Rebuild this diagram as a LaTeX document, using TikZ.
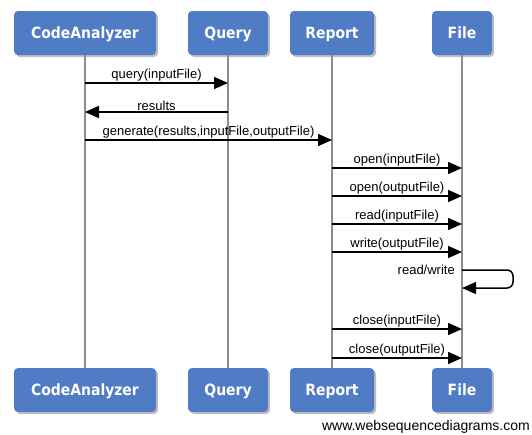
\documentclass[tikz,border=0pt]{standalone}
\usepackage{fontspec}
\setmainfont{Liberation Sans}
\newfontfamily\boxfont{DejaVu Sans Condensed}
\usetikzlibrary{arrows.meta,shadows}
\definecolor{actorblue}{RGB}{79,124,196}
\definecolor{lifegray}{RGB}{140,140,140}

\begin{document}
\begin{tikzpicture}[x=1pt,y=-1pt,
    actor/.style={fill=actorblue, rounded corners=4pt, minimum height=44pt, inner sep=0pt,
      text height=11pt, text depth=0pt,
      text=white, font=\boxfont\bfseries\fontsize{15.5}{18}\selectfont,
      drop shadow={shadow xshift=2pt,shadow yshift=-2pt,opacity=0.5}},
    lifeline/.style={lifegray, line width=1.5pt},
    msg/.style={line width=1.5pt, -{Triangle[length=14pt,width=12pt]}},
    lbl/.style={above, inner sep=1pt, font=\fontsize{13}{15}\selectfont}]

    \useasboundingbox (0,0) rectangle (532,434);

    % participants, top row
    \node [actor, minimum width=142pt] (ca) at (85,33) {CodeAnalyzer};
    \node [actor, minimum width=80pt] (q) at (228,33) {Query};
    \node [actor, minimum width=84pt] (r) at (332,33) {Report};
    \node [actor, minimum width=60pt] (f) at (462,33) {File};

    % participants, bottom row
    \node [actor, minimum width=142pt] (ca2) at (85,390) {CodeAnalyzer};
    \node [actor, minimum width=80pt] (q2) at (228,390) {Query};
    \node [actor, minimum width=84pt] (r2) at (332,390) {Report};
    \node [actor, minimum width=60pt] (f2) at (462,390) {File};

    % lifelines
    \draw [lifeline] (ca) -- (ca2);
    \draw [lifeline] (q) -- (q2);
    \draw [lifeline] (r) -- (r2);
    \draw [lifeline] (f) -- (f2);

    \draw [msg] (ca |- 0,83) -- node [lbl] {query(inputFile)} (q |- 0,83);
    \draw [msg] (q |- 0,112) -- node [lbl] {results} (ca |- 0,112);
    \draw [msg] (ca |- 0,140) -- node [lbl] {generate(results,inputFile,outputFile)} (r |- 0,140);

    \draw [msg] (r |- 0,168) -- node [lbl] {open(inputFile)} (f |- 0,168);
    \draw [msg] (r |- 0,196) -- node [lbl] {open(outputFile)} (f |- 0,196);
    \draw [msg] (r |- 0,224) -- node [lbl] {read(inputFile)} (f |- 0,224);
    \draw [msg] (r |- 0,252) -- node [lbl] {write(outputFile)} (f |- 0,252);

    % self message
    \draw [msg, rounded corners=6pt] (f |- 0,270) -- (513,270) -- (513,288) -- (f |- 0,288);
    \node [anchor=east, inner sep=0pt, font=\fontsize{13}{15}\selectfont] (rw) at ([xshift=-7pt]f |- 0,270) {read/write};

    \draw [msg] (r |- 0,329) -- node [lbl] {close(inputFile)} (f |- 0,329);
    \draw [msg] (r |- 0,358) -- node [lbl] {close(outputFile)} (f |- 0,358);

    \node [anchor=east, inner sep=0pt, font=\fontsize{14}{16}\selectfont] (wsd) at (530,427) {www.websequencediagrams.com};

\end{tikzpicture}
\end{document}
